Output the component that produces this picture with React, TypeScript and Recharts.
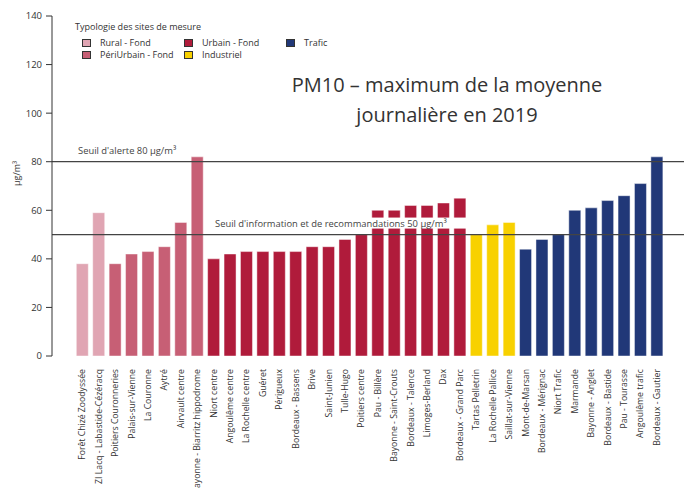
import React from 'react';
import { BarChart, Bar, Cell, XAxis, YAxis, ReferenceLine } from 'recharts';

const sites = [
  'Forêt Chizé Zoodyssée', 'ZI Lacq - Labastide-Cézéracq', 'Poitiers Couronneries', 'Palais-sur-Vienne',
  'La Couronne', 'Aytré', 'Airvault centre', 'Bayonne - Biarritz hippodrome', 'Niort centre',
  'Angoulême centre', 'La Rochelle centre', 'Guéret', 'Périgueux', 'Bordeaux - Bassens', 'Brive',
  'Saint-Junien', 'Tulle-Hugo', 'Poitiers centre', 'Pau - Billère', 'Bayonne - Saint-Crouts',
  'Bordeaux - Talence', 'Limoges-Berland', 'Dax', 'Bordeaux - Grand Parc', 'Tartas Pelletrin',
  'La Rochelle Pallice', 'Saillat-sur-Vienne', 'Mont-de-Marsan', 'Bordeaux - Mérignac', 'Niort Trafic',
  'Marmande', 'Bayonne - Anglet', 'Bordeaux - Bastide', 'Pau - Tourasse', 'Angoulême trafic',
  'Bordeaux - Gautier',
];

const maxValues = [
  38, 59, 38, 42, 43, 45, 55, 82, 40, 42, 43, 43, 43, 43, 45, 45, 48, 50,
  60, 60, 62, 62, 63, 65, 50, 54, 55, 44, 48, 50, 60, 61, 64, 66, 71, 82,
];

const siteTypes = [
  'rural', 'rural', 'peri', 'peri', 'peri', 'peri', 'peri', 'peri',
  'urbain', 'urbain', 'urbain', 'urbain', 'urbain', 'urbain', 'urbain', 'urbain', 'urbain', 'urbain',
  'urbain', 'urbain', 'urbain', 'urbain', 'urbain', 'urbain',
  'indus', 'indus', 'indus',
  'trafic', 'trafic', 'trafic', 'trafic', 'trafic', 'trafic', 'trafic', 'trafic', 'trafic',
];

const yTicks = [0, 20, 40, 60, 80, 100, 120, 140];

const typeColors: Record<string, string> = {
  rural: '#e0a5b3',
  peri: '#c75f75',
  urbain: '#b01b3b',
  indus: '#f8d100',
  trafic: '#213878',
};

const legendItems = [
  { key: 'rural', label: 'Rural - Fond' },
  { key: 'urbain', label: 'Urbain - Fond' },
  { key: 'trafic', label: 'Trafic' },
  { key: 'peri', label: 'PériUrbain - Fond' },
  { key: 'indus', label: 'Industriel' },
];

const data = sites.map((name, i) => ({ name, value: maxValues[i], type: siteTypes[i] }));

const FONT = '"Open Sans", sans-serif';

const SiteTick = (props: any) => {
  const { x, y, payload } = props;
  return (
    <text
      transform={`translate(${x},${y + 5}) rotate(-90)`}
      textAnchor="end"
      dy="0.35em"
      fontSize={8.7}
      fill="#333"
      fontFamily={FONT}
    >
      {payload.value}
    </text>
  );
};

const ThresholdLabel = (props: any) => {
  const { viewBox, text, x0, boxW } = props;
  const y = viewBox.y;
  return (
    <g>
      {boxW > 0 && <rect x={x0 - 2} y={y - 17} width={boxW} height={11} fill="#fff" />}
      <text x={x0} y={y - 8} fontSize={9.4} fill="#444" fontFamily={FONT}>
        {text}
      </text>
    </g>
  );
};

const LegendBox = () => (
  <div
    style={{
      position: 'absolute',
      left: 75,
      top: 21,
      fontFamily: FONT,
      fontSize: 9,
      color: '#333',
      lineHeight: '12px',
    }}
  >
    <div style={{ marginBottom: 4 }}>Typologie des sites de mesure</div>
    <div style={{ display: 'grid', gridTemplateColumns: '102px 102px 60px', marginLeft: 7 }}>
      {legendItems.map((it) => (
        <div key={it.key} style={{ display: 'flex', alignItems: 'center', height: 12 }}>
          <span
            style={{
              display: 'inline-block',
              width: 7,
              height: 6,
              background: typeColors[it.key],
              border: '1px solid #333',
              marginRight: 9,
            }}
          />
          {it.label}
        </div>
      ))}
    </div>
  </div>
);

export default function App() {
  return (
    <div style={{ position: 'absolute', left: 0, top: 0, width: 684, height: 488, background: '#fff' }}>
      <BarChart
        width={684}
        height={488}
        data={data}
        margin={{ top: 16, right: 0, bottom: 0, left: 0 }}
        barCategoryGap="14%"
      >
        <XAxis
          dataKey="name"
          interval={0}
          axisLine={false}
          tickLine={false}
          tick={<SiteTick />}
          height={132}
          padding={{ left: 22, right: 19 }}
        />
        <YAxis
          domain={[0, 140]}
          ticks={yTicks}
          width={52}
          tick={{ fontSize: 9.5, fill: '#333', fontFamily: FONT }}
          stroke="#333"
          tickSize={6}
          tickMargin={4}
          label={{
            value: 'µg/m³',
            angle: -90,
            position: 'insideLeft',
            offset: 17,
            style: { fontSize: 9, fill: '#333', fontFamily: FONT },
          }}
        />
        <Bar dataKey="value" isAnimationActive={false} stroke="rgba(255,255,255,0.45)" strokeWidth={1}>
          {data.map((d, i) => (
            <Cell key={i} fill={typeColors[d.type]} />
          ))}
        </Bar>
        <ReferenceLine
          y={80}
          stroke="#444"
          strokeWidth={1.3}
          label={<ThresholdLabel text="Seuil d'alerte 80 µg/m³" x0={78} boxW={0} />}
        />
        <ReferenceLine
          y={50}
          stroke="#444"
          strokeWidth={1.3}
          label={
            <ThresholdLabel
              text="Seuil d'information et de recommandations 50 µg/m³"
              x0={215}
              boxW={256}
            />
          }
        />
      </BarChart>
      <LegendBox />
      <div
        style={{
          position: 'absolute',
          top: 70,
          left: 247,
          width: 400,
          textAlign: 'center',
          fontFamily: FONT,
          fontSize: 20,
          lineHeight: '30px',
          color: '#333',
        }}
      >
        PM10 – maximum de la moyenne
        <br />
        journalière en 2019
      </div>
    </div>
  );
}
